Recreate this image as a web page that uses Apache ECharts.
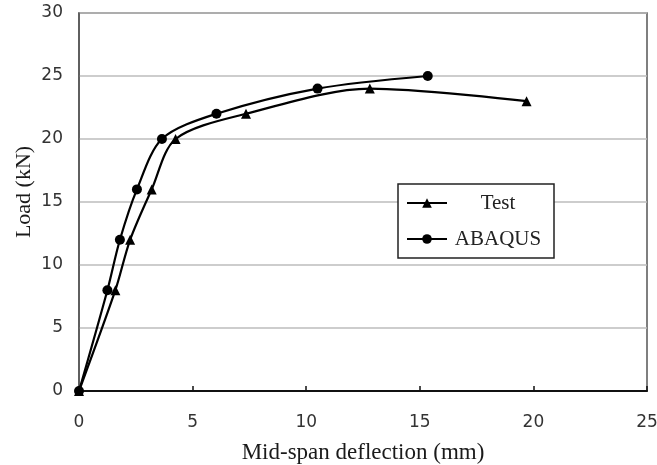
<!DOCTYPE html>
<html><head><meta charset="utf-8">
<script src="https://cdn.jsdelivr.net/npm/echarts@6/dist/echarts.min.js"></script>
<style>html,body{margin:0;padding:0;background:#fff}#c{width:657px;height:465px}</style>
</head><body><div id="c"></div>
<script>
const seriesNames = ['Test', 'ABAQUS'];
const testX = [0, 1.6, 2.25, 3.2, 4.25, 7.35, 12.8, 19.7];
const testY = [0, 8, 12, 16, 20, 22, 24, 23];
const abaqusX = [0, 1.25, 1.8, 2.55, 3.65, 6.05, 10.5, 15.35];
const abaqusY = [0, 8, 12, 16, 20, 22, 24, 25];
const xTicks = [0, 5, 10, 15, 20, 25];
const yTicks = [0, 5, 10, 15, 20, 25, 30];

const pair = (xs, ys) => xs.map((x, i) => [x, ys[i]]);
const serif = '"Liberation Serif", "Times New Roman", serif';
const tickFont = { color: '#333', fontSize: 17, fontFamily: '"DejaVu Sans", sans-serif' };

const chart = echarts.init(document.getElementById('c'), null, { renderer: 'canvas' });
chart.setOption({
  animation: false,
  backgroundColor: '#fff',
  grid: { left: 79, right: 10, top: 13, bottom: 74, outerBoundsMode: 'none', containLabel: false,
          show: true, borderColor: '#555', borderWidth: 1.5 },
  legend: {
    orient: 'vertical', left: 398, top: 184,
    backgroundColor: '#fff', borderColor: '#222', borderWidth: 1.5,
    padding: [8, 10, 8, 8], itemGap: 14, itemWidth: 40, itemHeight: 12,
    formatter: name => '{c|' + name + '}',
    textStyle: { fontFamily: serif, fontSize: 21, color: '#222', lineHeight: 22,
      rich: { c: { width: 92, align: 'center', fontFamily: serif, fontSize: 21, color: '#222' } } },
    data: seriesNames
  },
  xAxis: {
    type: 'value', min: 0, max: 25, interval: 5,
    name: 'Mid-span deflection (mm)', nameLocation: 'middle', nameGap: 50, nameMoveOverlap: false,
    nameTextStyle: { fontFamily: serif, fontSize: 23, color: '#1a1a1a' },
    axisLine: { onZero: false, lineStyle: { color: '#111', width: 2 } },
    axisTick: { show: true, inside: true, length: 5, lineStyle: { color: '#111', width: 1.5 } },
    axisLabel: Object.assign({ margin: 23, formatter: v => xTicks.includes(v) ? String(v) : '' }, tickFont),
    splitLine: { show: false }
  },
  yAxis: {
    type: 'value', min: 0, max: 30, interval: 5,
    name: 'Load (kN)', nameLocation: 'middle', nameGap: 44, nameRotate: 90, nameMoveOverlap: false,
    nameTextStyle: { fontFamily: serif, fontSize: 22, color: '#1a1a1a', padding: [0, 0, 0, 20] },
    axisLine: { lineStyle: { color: '#555', width: 1.5 } },
    axisTick: { show: false },
    axisLabel: Object.assign({ margin: 16, formatter: v => yTicks.includes(v) ? String(v) : '' }, tickFont),
    splitLine: { show: true, lineStyle: { color: '#bdbdbd', width: 1.5 } }
  },
  series: [
    {
      name: seriesNames[0], type: 'line', smooth: 0.3, data: pair(testX, testY),
      symbol: 'triangle', symbolSize: 10,
      lineStyle: { color: '#000', width: 2.2 }, itemStyle: { color: '#000' }
    },
    {
      name: seriesNames[1], type: 'line', smooth: 0.3, data: pair(abaqusX, abaqusY),
      symbol: 'circle', symbolSize: 10,
      lineStyle: { color: '#000', width: 2.2 }, itemStyle: { color: '#000' }
    }
  ]
});
</script></body></html>
